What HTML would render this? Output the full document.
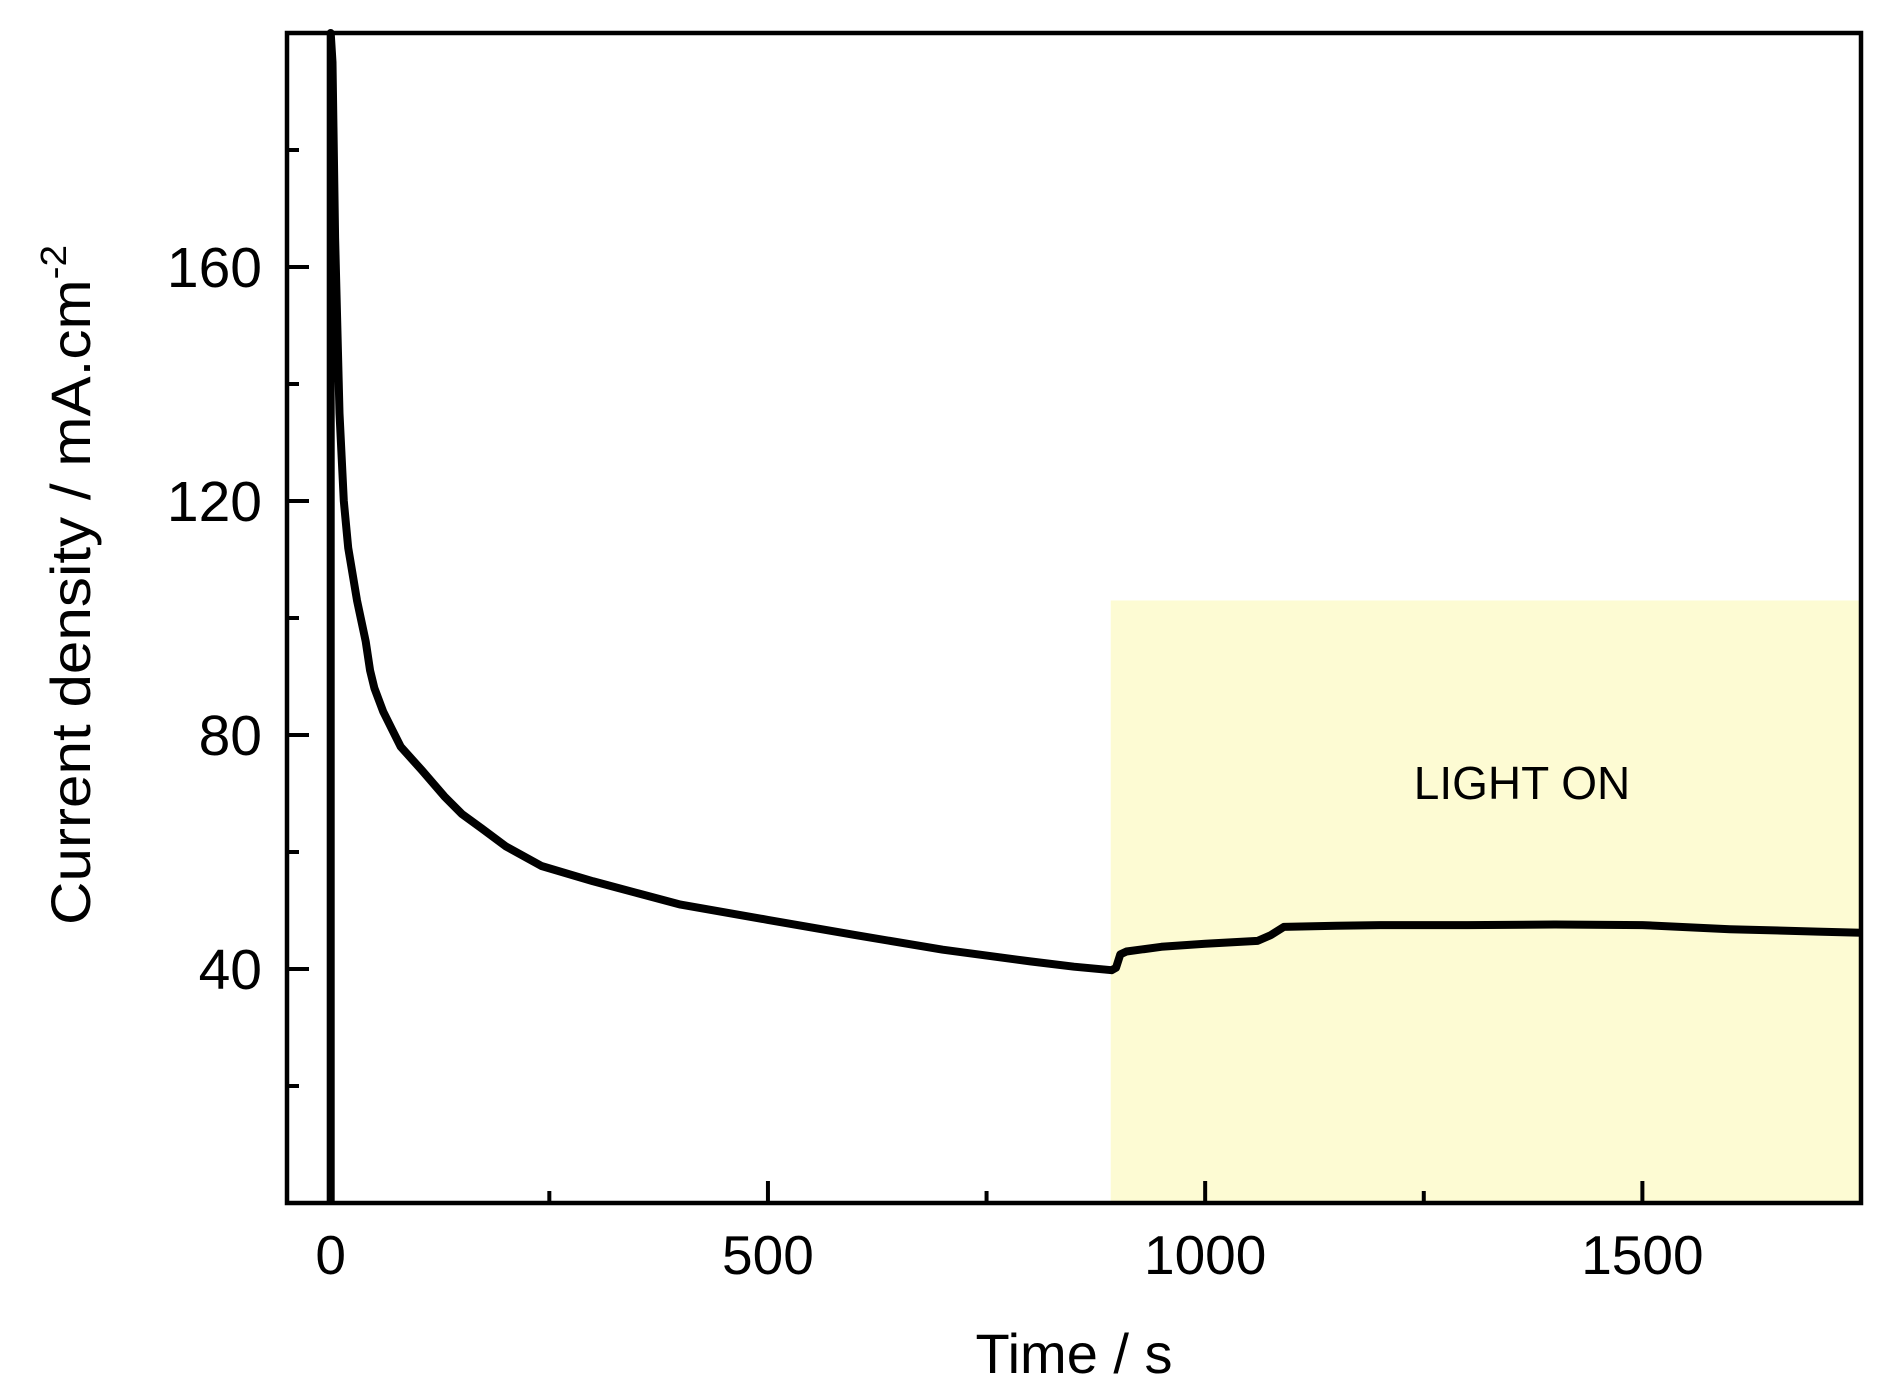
<!DOCTYPE html>
<html><head><meta charset="utf-8"><style>
html,body{margin:0;padding:0;background:#fff}
svg{display:block}
text{font-family:"Liberation Sans",Arial,sans-serif;fill:#000}
</style></head><body>
<svg id="chart" width="1886" height="1400" viewBox="0 0 1886 1400">
<rect x="0" y="0" width="1886" height="1400" fill="#ffffff"/>
<g id="plot"></g>
</svg>
<script>
const xTicks = [0, 500, 1000, 1500];
const xMinorTicks = [250, 750, 1250];
const yTicks = [40, 80, 120, 160];
const yMinorTicks = [20, 60, 100, 140, 180];
const lightStart = [892];
const lightTop = [103];
const times = [0, 0, 2, 5, 10, 15, 20, 30, 40, 45, 50, 60, 70, 80, 104, 130, 150, 173, 200, 241, 300, 400, 500, 600, 700, 800, 850, 893, 898, 903, 910, 950, 1000, 1060, 1075, 1090, 1150, 1200, 1300, 1400, 1500, 1600, 1700, 1750];
const current = [0, 200, 195, 165, 135, 120, 112, 103, 96, 91, 88, 84, 81, 78, 74, 69.5, 66.5, 64, 61, 57.6, 55, 51, 48.4, 45.8, 43.3, 41.3, 40.4, 39.8, 40.2, 42.5, 43, 43.8, 44.3, 44.8, 45.8, 47.2, 47.4, 47.5, 47.5, 47.6, 47.5, 46.8, 46.4, 46.2];

const L=287, R=1861, T=33, B=1203;
const XMIN=-50, XMAX=1750, YMIN=0, YMAX=200;
function sx(v){return L+(v-XMIN)/(XMAX-XMIN)*(R-L);}
function sy(v){return B-(v-YMIN)/(YMAX-YMIN)*(B-T);}
const NS='http://www.w3.org/2000/svg';
const g=document.getElementById('plot');
function mk(tag,attrs){const e=document.createElementNS(NS,tag);for(const k in attrs)e.setAttribute(k,attrs[k]);g.appendChild(e);return e;}

const lr=mk('rect',{x:sx(lightStart[0]),y:sy(lightTop[0]),width:R-sx(lightStart[0]),height:B-sy(lightTop[0]),fill:'#fdfbd3'});



const lt=mk('text',{x:1522,y:799,'font-size':46,'text-anchor':'middle'});
lt.textContent='LIGHT ON';



let d='';
for(let i=0;i<times.length;i++){d+=(i?'L':'M')+sx(times[i]).toFixed(1)+','+sy(Math.min(current[i],YMAX)).toFixed(1);}
const ln=mk('path',{d:d,fill:'none',stroke:'#000','stroke-width':8,'stroke-linejoin':'round'});


const spike=mk('line',{x1:sx(0),x2:sx(0),y1:T,y2:B,stroke:'#000','stroke-width':5});



const fr=mk('rect',{x:L,y:T,width:R-L,height:B-T,fill:'none',stroke:'#000','stroke-width':4.5});



xTicks.forEach(v=>{
  const t=mk('line',{x1:sx(v),x2:sx(v),y1:B,y2:B-22,stroke:'#000','stroke-width':4});
  
  
  const tx=mk('text',{x:sx(v),y:1274,'font-size':55,'text-anchor':'middle'});
  tx.textContent=v;
  
  
});
xMinorTicks.forEach(v=>{
  const t=mk('line',{x1:sx(v),x2:sx(v),y1:B,y2:B-12,stroke:'#000','stroke-width':4});
  
  
});
yTicks.forEach(v=>{
  const t=mk('line',{x1:L,x2:L+22,y1:sy(v),y2:sy(v),stroke:'#000','stroke-width':4});
  
  
  const tx=mk('text',{x:262,y:sy(v)+20,'font-size':57,'text-anchor':'end'});
  tx.textContent=v;
  
  
});
yMinorTicks.forEach(v=>{
  const t=mk('line',{x1:L,x2:L+12,y1:sy(v),y2:sy(v),stroke:'#000','stroke-width':4});
  
  
});

const xt=mk('text',{x:1074,y:1373,'font-size':56,'text-anchor':'middle'});
xt.textContent='Time / s';



const yt=mk('text',{x:0,y:0,'font-size':56,'text-anchor':'middle',transform:'translate(90,585) rotate(-90)',textLength:680,lengthAdjust:'spacingAndGlyphs'});
yt.innerHTML='Current density / mA.cm<tspan font-size="36" dy="-24">-2</tspan>';


</script>
</body></html>
